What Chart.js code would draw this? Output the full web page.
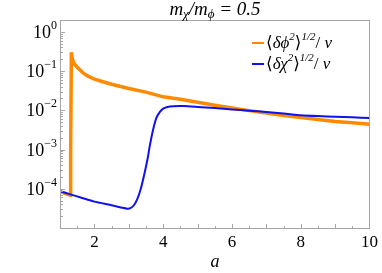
<!DOCTYPE html>
<html><head><meta charset="utf-8">
<script src="https://cdn.jsdelivr.net/npm/chart.js@4/dist/chart.umd.min.js"></script>
<style>html,body{margin:0;padding:0;background:#fff;}#wrap{width:382px;height:273px;}</style>
</head><body><div id="wrap"><canvas id="c" width="382" height="273"></canvas></div>
<script>
// ---- data ----
const phiA = [1.0,1.15,1.30,1.31,1.33,1.36,1.42,1.5,1.67,1.8,2.0,2.2,2.5,3.0,3.5,4.0,4.5,5.0,5.5,6.0,6.5,7.0,7.5,8.0,8.5,9.0,9.5,10];
const phiV = [8.5e-5,7.6e-5,6.8e-5,1e-3,0.30,0.20,0.15,0.125,0.09,0.075,0.062,0.055,0.046,0.036,0.029,0.022,0.019,0.016,0.0135,0.0115,0.0098,0.0085,0.0074,0.0065,0.0058,0.0052,0.0048,0.0044];
const chiA = [1.0,1.3,1.6,2.0,2.5,2.8,2.95,3.05,3.15,3.25,3.35,3.45,3.55,3.6,3.7,3.8,3.9,4.0,4.1,4.3,4.6,5.0,5.5,6.0,6.5,7.0,7.5,8.0,8.5,9.0,9.5,10];
const chiV = [8.7e-5,7.2e-5,6.0e-5,4.7e-5,3.8e-5,3.3e-5,3.1e-5,3.2e-5,3.8e-5,5.5e-5,1.0e-4,2.3e-4,6.0e-4,1.1e-3,3.0e-3,6.3e-3,9.0e-3,1.1e-2,1.2e-2,1.27e-2,1.28e-2,1.22e-2,1.14e-2,1.05e-2,9.8e-3,9.0e-3,8.3e-3,7.5e-3,7.1e-3,6.8e-3,6.6e-3,6.4e-3];
const xTickValues = [2,4,6,8,10];
const yDecadeExps = [0,-1,-2,-3,-4];
const xLabel = 'a';

const ORANGE = '#ff8a00', BLUE = '#1010f0', FRAME = '#a6a6a6';
const SERIF = '"Liberation Serif", "DejaVu Serif", serif';

function drawRich(ctx, x, y, segs, align) {
  let w = 0;
  segs.forEach(s => { ctx.font = (s.it ? 'italic ' : '') + s.sz + 'px ' + SERIF; s.w = ctx.measureText(s.t).width; w += s.w; });
  let cx = align === 'right' ? x - w : align === 'center' ? x - w / 2 : x;
  ctx.textBaseline = 'alphabetic'; ctx.textAlign = 'left'; ctx.fillStyle = '#000';
  segs.forEach(s => { ctx.font = (s.it ? 'italic ' : '') + s.sz + 'px ' + SERIF; ctx.fillText(s.t, cx, y + (s.dy || 0)); cx += s.w; });
}

const framePlugin = {
  id: 'frame',
  afterDraw(chart) {
    const ctx = chart.ctx, a = chart.chartArea, xs = chart.scales.x, ys = chart.scales.y;
    ctx.save();
    ctx.strokeStyle = FRAME; ctx.lineWidth = 1;
    ctx.strokeRect(Math.round(a.left) + 0.5, Math.round(a.top) + 0.5, Math.round(a.right - a.left) - 1, Math.round(a.bottom - a.top));
    ctx.beginPath();
    for (let v = 1.5; v < 10; v += 0.5) {
      const px = Math.round(xs.getPixelForValue(v)) + 0.5;
      const len = (v % 1 === 0) ? 4 : 2;
      ctx.moveTo(px, a.bottom); ctx.lineTo(px, a.bottom - len);
    }
    for (let e = -5; e <= 0; e++) {
      for (let m = 1; m <= 9; m++) {
        const v = m * Math.pow(10, e);
        if (v < ys.min || v > ys.max) continue;
        const py = Math.round(ys.getPixelForValue(v)) + 0.5;
        const len = m === 1 ? 5 : 3;
        ctx.moveTo(a.left, py); ctx.lineTo(a.left + len, py);
      }
    }
    ctx.stroke();
    yDecadeExps.forEach(e => {
      const py = ys.getPixelForValue(Math.pow(10, e));
      const sup = e === 0 ? '0' : '\u2212' + (-e);
      drawRich(ctx, 57, py + 6, [{t: '10', sz: 18}, {t: sup, sz: 12, dy: -9}], 'right');
    });
    drawRich(ctx, 215, 267, [{t: xLabel, sz: 18, it: true}], 'center');
    drawRich(ctx, 215, 15, [
      {t: 'm', sz: 19, it: true}, {t: '\u03C7', sz: 13, it: true, dy: 3},
      {t: '/m', sz: 19, it: true}, {t: '\u03D5', sz: 13, it: true, dy: 3},
      {t: ' = 0.5', sz: 19, it: true}], 'center');
    const rows = [{c: ORANGE, g: '\u03B4\u03D5', y: 43}, {c: BLUE, g: '\u03B4\u03C7', y: 64}];
    rows.forEach(r => {
      ctx.strokeStyle = r.c; ctx.lineWidth = 2;
      ctx.beginPath(); ctx.moveTo(252, r.y); ctx.lineTo(264, r.y); ctx.stroke();
      drawRich(ctx, 266, r.y + 5, [
        {t: '\u27E8', sz: 17}, {t: r.g, sz: 17, it: true}, {t: '2', sz: 11, it: true, dy: -8},
        {t: '\u27E9', sz: 17}, {t: '1/2', sz: 11, it: true, dy: -8}, {t: '/ ', sz: 17}, {t: '\u03BD', sz: 17, it: true}], 'left');
    });
    ctx.restore();
  }
};

const toPts = (xa, ya) => xa.map((x, i) => ({x: x, y: ya[i]}));

new Chart(document.getElementById('c'), {
  type: 'line',
  data: {
    datasets: [
      {label: 'phi', data: toPts(phiA, phiV), borderColor: ORANGE, borderWidth: 3.5, pointRadius: 0, tension: 0, order: 2},
      {label: 'chi', data: toPts(chiA, chiV), borderColor: BLUE, borderWidth: 2, pointRadius: 0, tension: 0.2, order: 1}
    ]
  },
  options: {
    responsive: false, animation: false, devicePixelRatio: 1,
    layout: {padding: {left: 0, right: 9, top: 20, bottom: 0}},
    plugins: {legend: {display: false}, title: {display: false}, tooltip: {enabled: false}},
    scales: {
      x: {
        type: 'linear', min: 1, max: 10,
        afterBuildTicks: s => { s.ticks = xTickValues.map(v => ({value: v})); },
        afterFit: s => { s.height = 45; },
        grid: {display: false, drawTicks: false}, border: {display: false},
        ticks: {autoSkip: false, maxRotation: 0, padding: 4, color: '#000', font: {family: SERIF, size: 17}, callback: v => String(v)}
      },
      y: {
        type: 'logarithmic', min: 1e-5, max: 2,
        afterFit: s => { s.width = 60; },
        grid: {display: false, drawTicks: false}, border: {display: false},
        ticks: {display: false}
      }
    }
  },
  plugins: [framePlugin]
});
</script>
</body></html>
